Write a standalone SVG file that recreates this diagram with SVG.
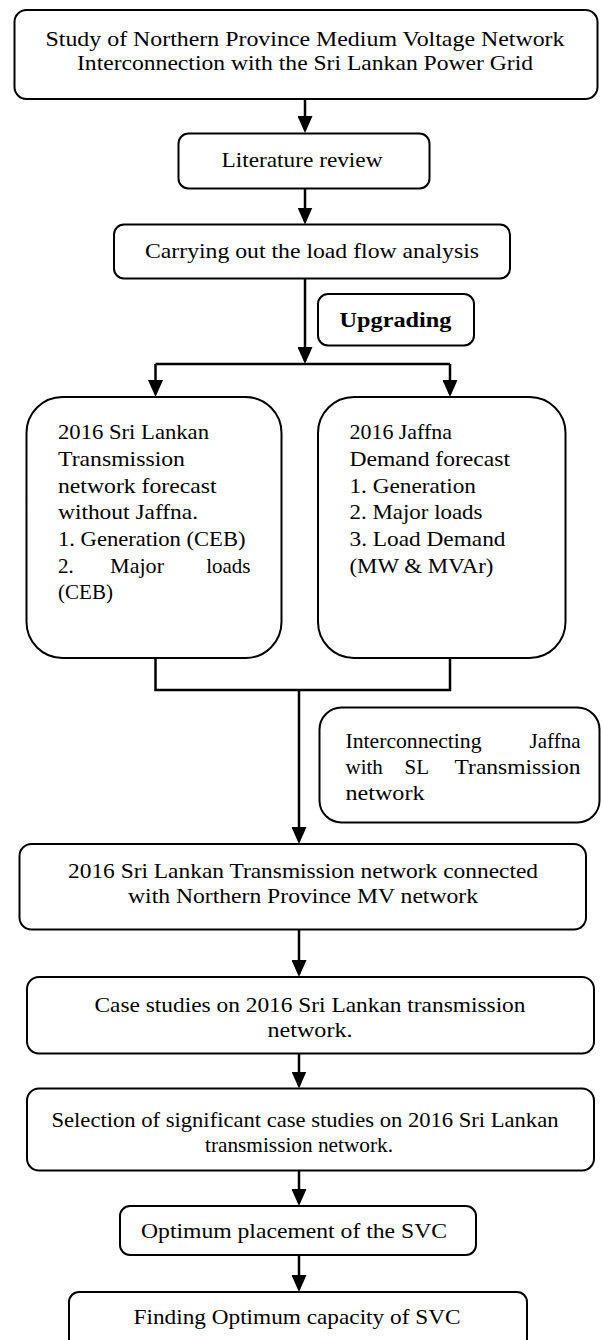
<svg xmlns="http://www.w3.org/2000/svg" width="602" height="1340" viewBox="0 0 602 1340">
<style>
.box{fill:#fff;stroke:#000;stroke-width:2}
.ln{fill:none;stroke:#000;stroke-width:2.5}
.arr{marker-end:url(#ah)}
.t{font-family:"Liberation Serif","Times New Roman",serif;font-size:21px;fill:#000}
.c{text-anchor:middle}
.e{text-anchor:end}
.b{font-weight:bold}
</style>
<defs>
<marker id="ah" markerUnits="userSpaceOnUse" markerWidth="17" markerHeight="15" refX="14" refY="7.5" orient="auto">
<path d="M0,0 L17,7.5 L0,15 z" fill="#000"/>
</marker>
</defs>
<rect width="602" height="1340" fill="#fff"/>

<g id="connectors">
<line class="ln arr" x1="305" y1="99" x2="305" y2="130"/>
<line class="ln arr" x1="305" y1="188.5" x2="305" y2="221.5"/>
<line class="ln arr" x1="305" y1="278.5" x2="305" y2="361"/>
<polyline class="ln" points="155.5,364 450,364"/>
<line class="ln arr" x1="155.5" y1="364" x2="155.5" y2="394"/>
<line class="ln arr" x1="450" y1="364" x2="450" y2="394"/>
<polyline class="ln" points="155.5,658 155.5,690 450,690 450,658"/>
<line class="ln arr" x1="299" y1="690" x2="299" y2="841"/>
<line class="ln arr" x1="299" y1="929.5" x2="299" y2="974"/>
<line class="ln arr" x1="299" y1="1053.5" x2="299" y2="1085.5"/>
<line class="ln arr" x1="299" y1="1170.5" x2="299" y2="1203"/>
<line class="ln arr" x1="299" y1="1255" x2="299" y2="1289"/>
</g>

<g id="n1">
<rect class="box" x="14.5" y="10" width="583" height="89" rx="12"/>
<text class="t c" x="305" y="46" textLength="519" lengthAdjust="spacingAndGlyphs">Study of Northern Province Medium Voltage Network</text>
<text class="t c" x="305" y="70" textLength="456" lengthAdjust="spacingAndGlyphs">Interconnection with the Sri Lankan Power Grid</text>
</g>

<g id="n2">
<rect class="box" x="178.5" y="133.5" width="251" height="55" rx="10"/>
<text class="t c" x="302" y="166.5" textLength="161" lengthAdjust="spacingAndGlyphs">Literature review</text>
</g>

<g id="n3">
<rect class="box" x="114" y="224.5" width="396" height="54" rx="10"/>
<text class="t c" x="312" y="258" textLength="334" lengthAdjust="spacingAndGlyphs">Carrying out the load flow analysis</text>
</g>

<g id="n4">
<rect class="box" x="318" y="294" width="156" height="51.5" rx="10"/>
<text class="t c b" x="395.5" y="326.5" textLength="112" lengthAdjust="spacingAndGlyphs">Upgrading</text>
</g>

<g id="n5">
<rect class="box" x="26.5" y="397" width="255" height="261" rx="36"/>
<text class="t" x="58" y="439" textLength="151" lengthAdjust="spacingAndGlyphs">2016 Sri Lankan</text>
<text class="t" x="58" y="466" textLength="127" lengthAdjust="spacingAndGlyphs">Transmission</text>
<text class="t" x="58" y="492.5" textLength="158.5" lengthAdjust="spacingAndGlyphs">network forecast</text>
<text class="t" x="58" y="519" textLength="140" lengthAdjust="spacingAndGlyphs">without Jaffna.</text>
<text class="t" x="58" y="546" textLength="187.5" lengthAdjust="spacingAndGlyphs">1. Generation (CEB)</text>
<text class="t" x="58" y="572.5">2.</text>
<text class="t" x="110" y="572.5" textLength="54" lengthAdjust="spacingAndGlyphs">Major</text>
<text class="t e" x="250.5" y="572.5">loads</text>
<text class="t" x="58" y="599" textLength="55" lengthAdjust="spacingAndGlyphs">(CEB)</text>
</g>

<g id="n6">
<rect class="box" x="318" y="397" width="247.5" height="261" rx="36"/>
<text class="t" x="349.5" y="439" textLength="102.5" lengthAdjust="spacingAndGlyphs">2016 Jaffna</text>
<text class="t" x="349.5" y="466" textLength="160.5" lengthAdjust="spacingAndGlyphs">Demand forecast</text>
<text class="t" x="349.5" y="492.5" textLength="126.5" lengthAdjust="spacingAndGlyphs">1. Generation</text>
<text class="t" x="349.5" y="519" textLength="133" lengthAdjust="spacingAndGlyphs">2. Major loads</text>
<text class="t" x="349.5" y="546" textLength="156" lengthAdjust="spacingAndGlyphs">3. Load Demand</text>
<text class="t" x="349.5" y="572.5" textLength="144" lengthAdjust="spacingAndGlyphs">(MW &amp; MVAr)</text>
</g>

<g id="n7">
<rect class="box" x="319.5" y="707.5" width="280" height="115" rx="22"/>
<text class="t" x="345.5" y="748" textLength="136" lengthAdjust="spacingAndGlyphs">Interconnecting</text>
<text class="t e" x="580.5" y="748">Jaffna</text>
<text class="t" x="345.5" y="774">with</text>
<text class="t" x="404.5" y="774">SL</text>
<text class="t e" x="580.5" y="774" textLength="126" lengthAdjust="spacingAndGlyphs">Transmission</text>
<text class="t" x="345.5" y="800" textLength="79" lengthAdjust="spacingAndGlyphs">network</text>
</g>

<g id="n8">
<rect class="box" x="19.5" y="844" width="566.5" height="85.5" rx="12"/>
<text class="t c" x="303" y="878" textLength="470" lengthAdjust="spacingAndGlyphs">2016 Sri Lankan Transmission network connected</text>
<text class="t c" x="303" y="903" textLength="350" lengthAdjust="spacingAndGlyphs">with Northern Province MV network</text>
</g>

<g id="n9">
<rect class="box" x="27" y="977" width="567" height="76.5" rx="12"/>
<text class="t c" x="310" y="1012" textLength="431" lengthAdjust="spacingAndGlyphs">Case studies on 2016 Sri Lankan transmission</text>
<text class="t c" x="310" y="1037" textLength="85" lengthAdjust="spacingAndGlyphs">network.</text>
</g>

<g id="n10">
<rect class="box" x="27" y="1088.5" width="567" height="82" rx="12"/>
<text class="t c" x="305" y="1127" textLength="507" lengthAdjust="spacingAndGlyphs">Selection of significant case studies on 2016 Sri Lankan</text>
<text class="t c" x="299" y="1152" textLength="188" lengthAdjust="spacingAndGlyphs">transmission network.</text>
</g>

<g id="n11">
<rect class="box" x="120" y="1206" width="356" height="49" rx="10"/>
<text class="t c" x="294" y="1238" textLength="306" lengthAdjust="spacingAndGlyphs">Optimum placement of the SVC</text>
</g>

<g id="n12">
<rect class="box" x="69" y="1292" width="458" height="70" rx="10"/>
<text class="t c" x="297" y="1324" textLength="327" lengthAdjust="spacingAndGlyphs">Finding Optimum capacity of SVC</text>
</g>
</svg>
